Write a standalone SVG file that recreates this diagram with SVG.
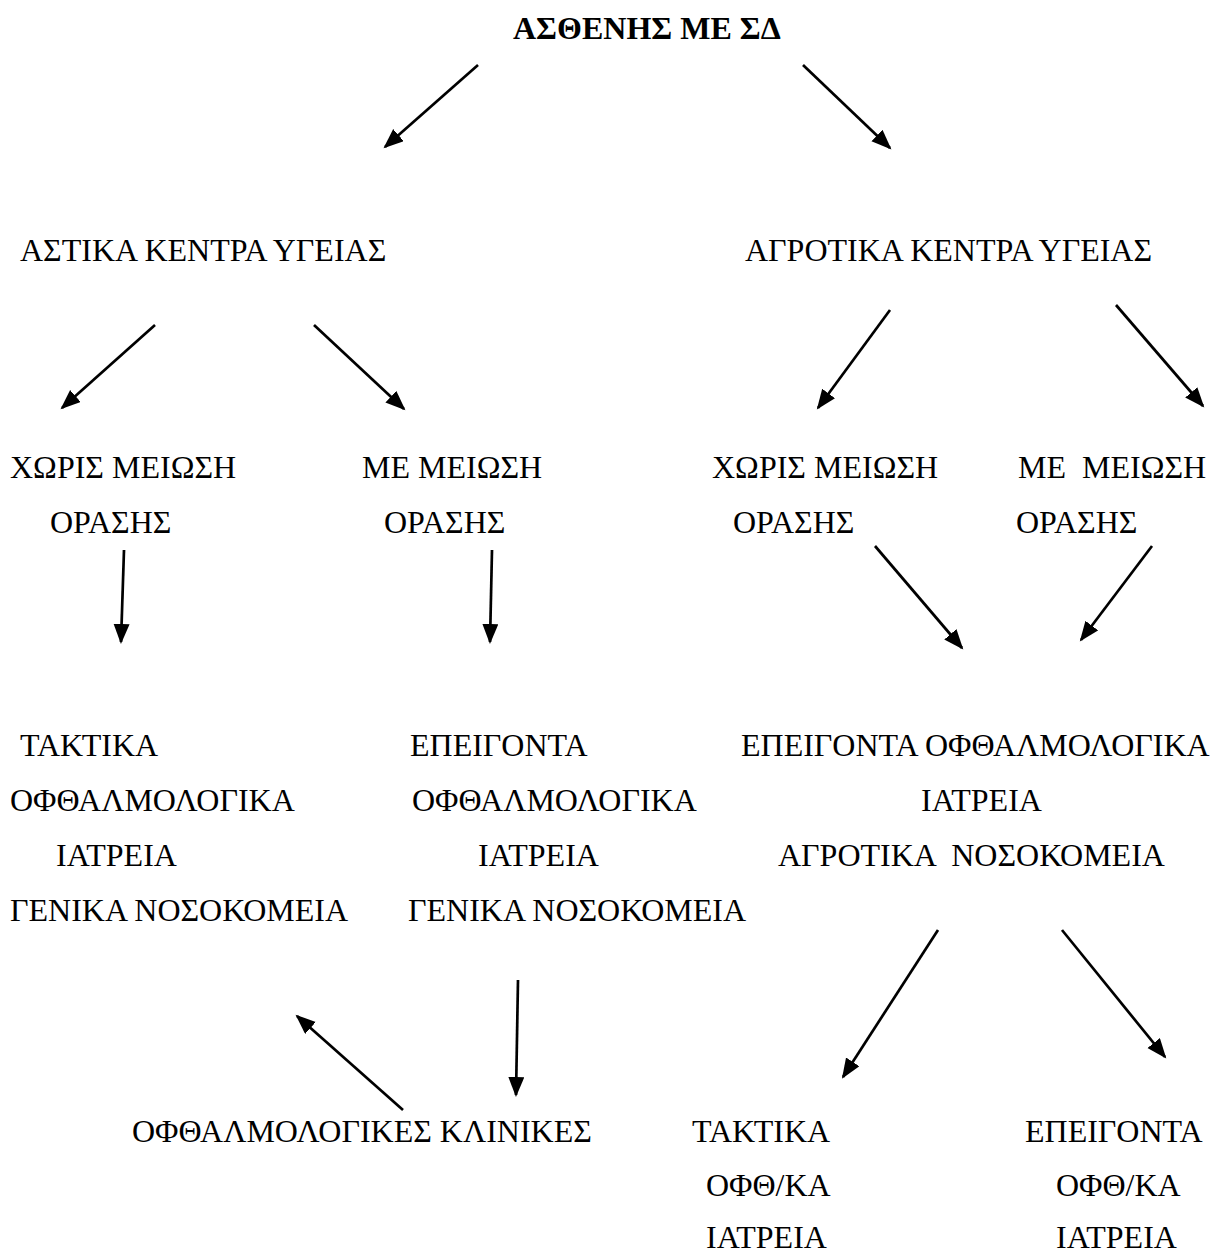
<svg xmlns="http://www.w3.org/2000/svg" width="1228" height="1256" viewBox="0 0 1228 1256">
<style>
text{font-family:"Liberation Serif","Times New Roman",serif;font-size:32px;fill:#000}
.b{font-weight:bold}
.c line{stroke:#000;stroke-width:2.7;marker-end:url(#ah)}
</style>
<defs>
<marker id="ah" markerUnits="userSpaceOnUse" markerWidth="22" markerHeight="18" refX="18" refY="8" orient="auto">
<path d="M0,0 L20,8 L0,16 z" fill="#000"/>
</marker>
</defs>
<rect width="1228" height="1256" fill="#fff"/>
<g id="n-root"><text class="b" x="513" y="39">ΑΣΘΕΝΗΣ ΜΕ ΣΔ</text></g>
<g id="n-astika"><text x="20" y="261">ΑΣΤΙΚΑ ΚΕΝΤΡΑ ΥΓΕΙΑΣ</text></g>
<g id="n-agrotika"><text x="745" y="261">ΑΓΡΟΤΙΚΑ ΚΕΝΤΡΑ ΥΓΕΙΑΣ</text></g>
<g id="n-a-xoris"><text x="10" y="478">ΧΩΡΙΣ ΜΕΙΩΣΗ</text><text x="50" y="533">ΟΡΑΣΗΣ</text></g>
<g id="n-a-me"><text x="362" y="478">ΜΕ ΜΕΙΩΣΗ</text><text x="384" y="533">ΟΡΑΣΗΣ</text></g>
<g id="n-g-xoris"><text x="712" y="478">ΧΩΡΙΣ ΜΕΙΩΣΗ</text><text x="733" y="533">ΟΡΑΣΗΣ</text></g>
<g id="n-g-me"><text x="1018" y="478" xml:space="preserve">ΜΕ  ΜΕΙΩΣΗ</text><text x="1016" y="533">ΟΡΑΣΗΣ</text></g>
<g id="n-taktika-gen"><text x="20" y="756">ΤΑΚΤΙΚΑ</text><text x="10" y="811">ΟΦΘΑΛΜΟΛΟΓΙΚΑ</text><text x="56" y="866">ΙΑΤΡΕΙΑ</text><text x="10" y="921">ΓΕΝΙΚΑ ΝΟΣΟΚΟΜΕΙΑ</text></g>
<g id="n-epeig-gen"><text x="410" y="756">ΕΠΕΙΓΟΝΤΑ</text><text x="412" y="811">ΟΦΘΑΛΜΟΛΟΓΙΚΑ</text><text x="478" y="866">ΙΑΤΡΕΙΑ</text><text x="408" y="921">ΓΕΝΙΚΑ ΝΟΣΟΚΟΜΕΙΑ</text></g>
<g id="n-epeig-agr"><text x="741" y="756">ΕΠΕΙΓΟΝΤΑ ΟΦΘΑΛΜΟΛΟΓΙΚΑ</text><text x="921" y="811">ΙΑΤΡΕΙΑ</text><text x="778" y="866" xml:space="preserve">ΑΓΡΟΤΙΚΑ  ΝΟΣΟΚΟΜΕΙΑ</text></g>
<g id="n-klinikes"><text x="132" y="1142">ΟΦΘΑΛΜΟΛΟΓΙΚΕΣ ΚΛΙΝΙΚΕΣ</text></g>
<g id="n-taktika-ofth"><text x="692" y="1142">ΤΑΚΤΙΚΑ</text><text x="706" y="1196">ΟΦΘ/ΚΑ</text><text x="706" y="1248">ΙΑΤΡΕΙΑ</text></g>
<g id="n-epeig-ofth"><text x="1025" y="1142">ΕΠΕΙΓΟΝΤΑ</text><text x="1056" y="1196">ΟΦΘ/ΚΑ</text><text x="1056" y="1248">ΙΑΤΡΕΙΑ</text></g>
<g id="connectors" class="c">
<line x1="478" y1="65" x2="385" y2="147"/>
<line x1="803" y1="65" x2="890" y2="148"/>
<line x1="155" y1="325" x2="62" y2="408"/>
<line x1="314" y1="325" x2="404" y2="409"/>
<line x1="890" y1="310" x2="818" y2="408"/>
<line x1="1116" y1="305" x2="1203" y2="406"/>
<line x1="124" y1="550" x2="121" y2="642"/>
<line x1="492" y1="550" x2="490" y2="642"/>
<line x1="875" y1="546" x2="962" y2="648"/>
<line x1="1152" y1="546" x2="1081" y2="640"/>
<line x1="403" y1="1110" x2="297" y2="1016"/>
<line x1="518" y1="980" x2="516" y2="1095"/>
<line x1="938" y1="930" x2="843" y2="1077"/>
<line x1="1062" y1="930" x2="1165" y2="1057"/>
</g>
</svg>
